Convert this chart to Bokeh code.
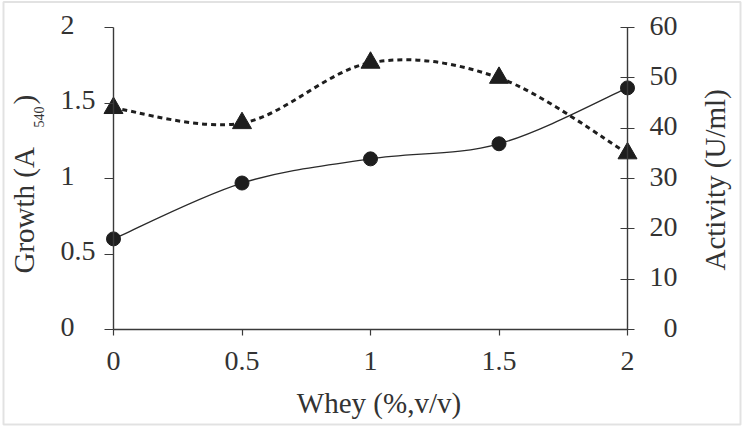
import math
from bokeh.plotting import figure
from bokeh.models import (Range1d, LinearAxis, FixedTicker, NumeralTickFormatter,
                          Label, ColumnDataSource, BoxAnnotation)
from bokeh.embed import file_html
from bokeh.resources import INLINE

# ---- data ----
whey = [0, 0.5, 1, 1.5, 2]
growth = [0.60, 0.97, 1.13, 1.23, 1.60]          # A540, left axis
activity = [44, 41, 53, 50, 35]                  # U/ml, right axis
x_ticks = [0, 0.5, 1, 1.5, 2]
growth_ticks = [0, 0.5, 1, 1.5, 2]
growth_tick_labels = ["0", "0.5", "1", "1.5", "2"]
act_ticks = [0, 10, 20, 30, 40, 50, 60]
act_tick_labels = ["0", "10", "20", "30", "40", "50", "60"]
x_title = "Whey (%,v/v)"
y_title_main = "Growth (A"
y_title_sub = "540"
y_title_end = ")"
y2_title = "Activity (U/ml)"

FONT = "Liberation Serif"
TXT = "#333333"
INK = "#1e1e1e"
AX = "#3a3a3a"

W, H = 744, 426
# where the axes box sits on the canvas (px)
FL, FR, FT, FB = 113.0, 627.0, 27.0, 329.0
XMAX, YMAX, AMAX = 2.0, 2.0, 60.0

def xd(px):
    return (px - FL) / (FR - FL) * XMAX
def yd(py):
    return (FB - py) / (FB - FT) * YMAX

p = figure(width=W, height=H, output_backend="svg", toolbar_location=None,
           x_range=Range1d(xd(0), xd(W)), y_range=Range1d(yd(H), yd(0)),
           x_axis_type=None, y_axis_type=None)
p.extra_y_ranges = {"act": Range1d(yd(H) * AMAX / YMAX, yd(0) * AMAX / YMAX)}
p.min_border = 0
p.min_border_left = 0
p.min_border_right = 0
p.min_border_top = 0
p.min_border_bottom = 0
p.outline_line_color = None
p.xgrid.visible = False
p.ygrid.visible = False
p.background_fill_color = "white"
p.border_fill_color = "white"

# outer frame of the figure
p.add_layout(BoxAnnotation(left=xd(3), right=xd(740), top=yd(1.5), bottom=yd(424),
                           fill_color=None, line_color="#a0a0a0", line_width=2))

# axes placed at fixed data locations
xa = LinearAxis(ticker=FixedTicker(ticks=x_ticks), fixed_location=0,
                bounds=(0, XMAX), formatter=NumeralTickFormatter(format="0.[0]"))
xa.major_tick_out = 6
xa.major_tick_in = 0
xa.minor_tick_line_color = None
xa.axis_line_color = AX
xa.axis_line_width = 1.4
xa.major_tick_line_color = AX
xa.major_tick_line_width = 1.2
xa.major_label_text_font = FONT
xa.major_label_text_font_size = "28px"
xa.major_label_text_color = TXT
xa.major_label_standoff = 16
p.add_layout(xa, "below")

ya = LinearAxis(ticker=FixedTicker(ticks=growth_ticks), fixed_location=0,
                bounds=(0, YMAX))
ya.major_tick_out = 9
ya.major_tick_in = 0
ya.minor_tick_line_color = None
ya.axis_line_color = AX
ya.axis_line_width = 1.4
ya.major_tick_line_color = AX
ya.major_tick_line_width = 1.2
ya.major_label_text_color = None
ya.major_label_text_font_size = "10px"
p.add_layout(ya, "left")

ya2 = LinearAxis(y_range_name="act", ticker=FixedTicker(ticks=act_ticks),
                 fixed_location=XMAX, bounds=(0, AMAX))
ya2.major_tick_out = 7
ya2.major_tick_in = 7
ya2.minor_tick_line_color = None
ya2.axis_line_color = AX
ya2.axis_line_width = 1.4
ya2.major_tick_line_color = AX
ya2.major_tick_line_width = 1.2
ya2.major_label_text_color = None
ya2.major_label_text_font_size = "10px"
p.add_layout(ya2, "right")

# smooth (Excel-like) curves drawn as Bezier segments through the data points
def bezier_segments(xs, ys):
    n = len(xs)
    segs = dict(x0=[], y0=[], x1=[], y1=[], cx0=[], cy0=[], cx1=[], cy1=[])
    for i in range(n - 1):
        im1 = max(i - 1, 0)
        ip2 = min(i + 2, n - 1)
        segs["x0"].append(xs[i]); segs["y0"].append(ys[i])
        segs["x1"].append(xs[i + 1]); segs["y1"].append(ys[i + 1])
        segs["cx0"].append(xs[i] + (xs[i + 1] - xs[im1]) / 6.0)
        segs["cy0"].append(ys[i] + (ys[i + 1] - ys[im1]) / 6.0)
        segs["cx1"].append(xs[i + 1] - (xs[ip2] - xs[i]) / 6.0)
        segs["cy1"].append(ys[i + 1] - (ys[ip2] - ys[i]) / 6.0)
    return ColumnDataSource(segs)

g_src = bezier_segments(whey, growth)
a_src = bezier_segments(whey, activity)

p.bezier(x0="x0", y0="y0", x1="x1", y1="y1", cx0="cx0", cy0="cy0",
         cx1="cx1", cy1="cy1", source=g_src, line_color="#2a2a2a", line_width=1.3)
p.bezier(x0="x0", y0="y0", x1="x1", y1="y1", cx0="cx0", cy0="cy0",
         cx1="cx1", cy1="cy1", source=a_src, line_color=INK, line_width=3,
         line_dash="5 4", y_range_name="act")

p.scatter(whey, growth, marker="circle", size=14, fill_color=INK, line_color=INK)
p.scatter(whey, activity, marker="triangle", size=19, fill_color=INK,
          line_color=INK, y_range_name="act")

# tick labels (left axis: left aligned; right axis: right aligned)
for t, s in zip(growth_ticks, growth_tick_labels):
    p.add_layout(Label(x=xd(60), y=t, y_offset=3, text=s, text_align="left",
                       text_baseline="middle", text_font=FONT,
                       text_font_size="28px", text_color=TXT))
for t, s in zip(act_ticks, act_tick_labels):
    p.add_layout(Label(x=xd(677), y=t, y_offset=2, y_range_name="act", text=s,
                       text_align="right", text_baseline="middle",
                       text_font=FONT, text_font_size="28px", text_color=TXT))

# axis titles
p.add_layout(Label(x=xd(378.5), y=yd(402), text=x_title, text_align="center",
                   text_baseline="alphabetic", text_font=FONT,
                   text_font_size="29px", text_color=TXT))
p.add_layout(Label(x=xd(23), y=yd(273), text=y_title_main, angle=math.pi / 2,
                   text_align="left", text_baseline="alphabetic", text_font=FONT,
                   text_font_size="29px", text_color=TXT))
p.add_layout(Label(x=xd(38), y=yd(127), text=y_title_sub, angle=math.pi / 2,
                   text_align="left", text_baseline="alphabetic", text_font=FONT,
                   text_font_size="14px", text_color=TXT))
p.add_layout(Label(x=xd(23), y=yd(104), text=y_title_end, angle=math.pi / 2,
                   text_align="left", text_baseline="alphabetic", text_font=FONT,
                   text_font_size="29px", text_color=TXT))
p.add_layout(Label(x=xd(714), y=yd(270), text=y2_title, angle=math.pi / 2,
                   text_align="left", text_baseline="alphabetic", text_font=FONT,
                   text_font_size="29px", text_color=TXT))

open("out.html", "w").write(file_html(p, INLINE))
